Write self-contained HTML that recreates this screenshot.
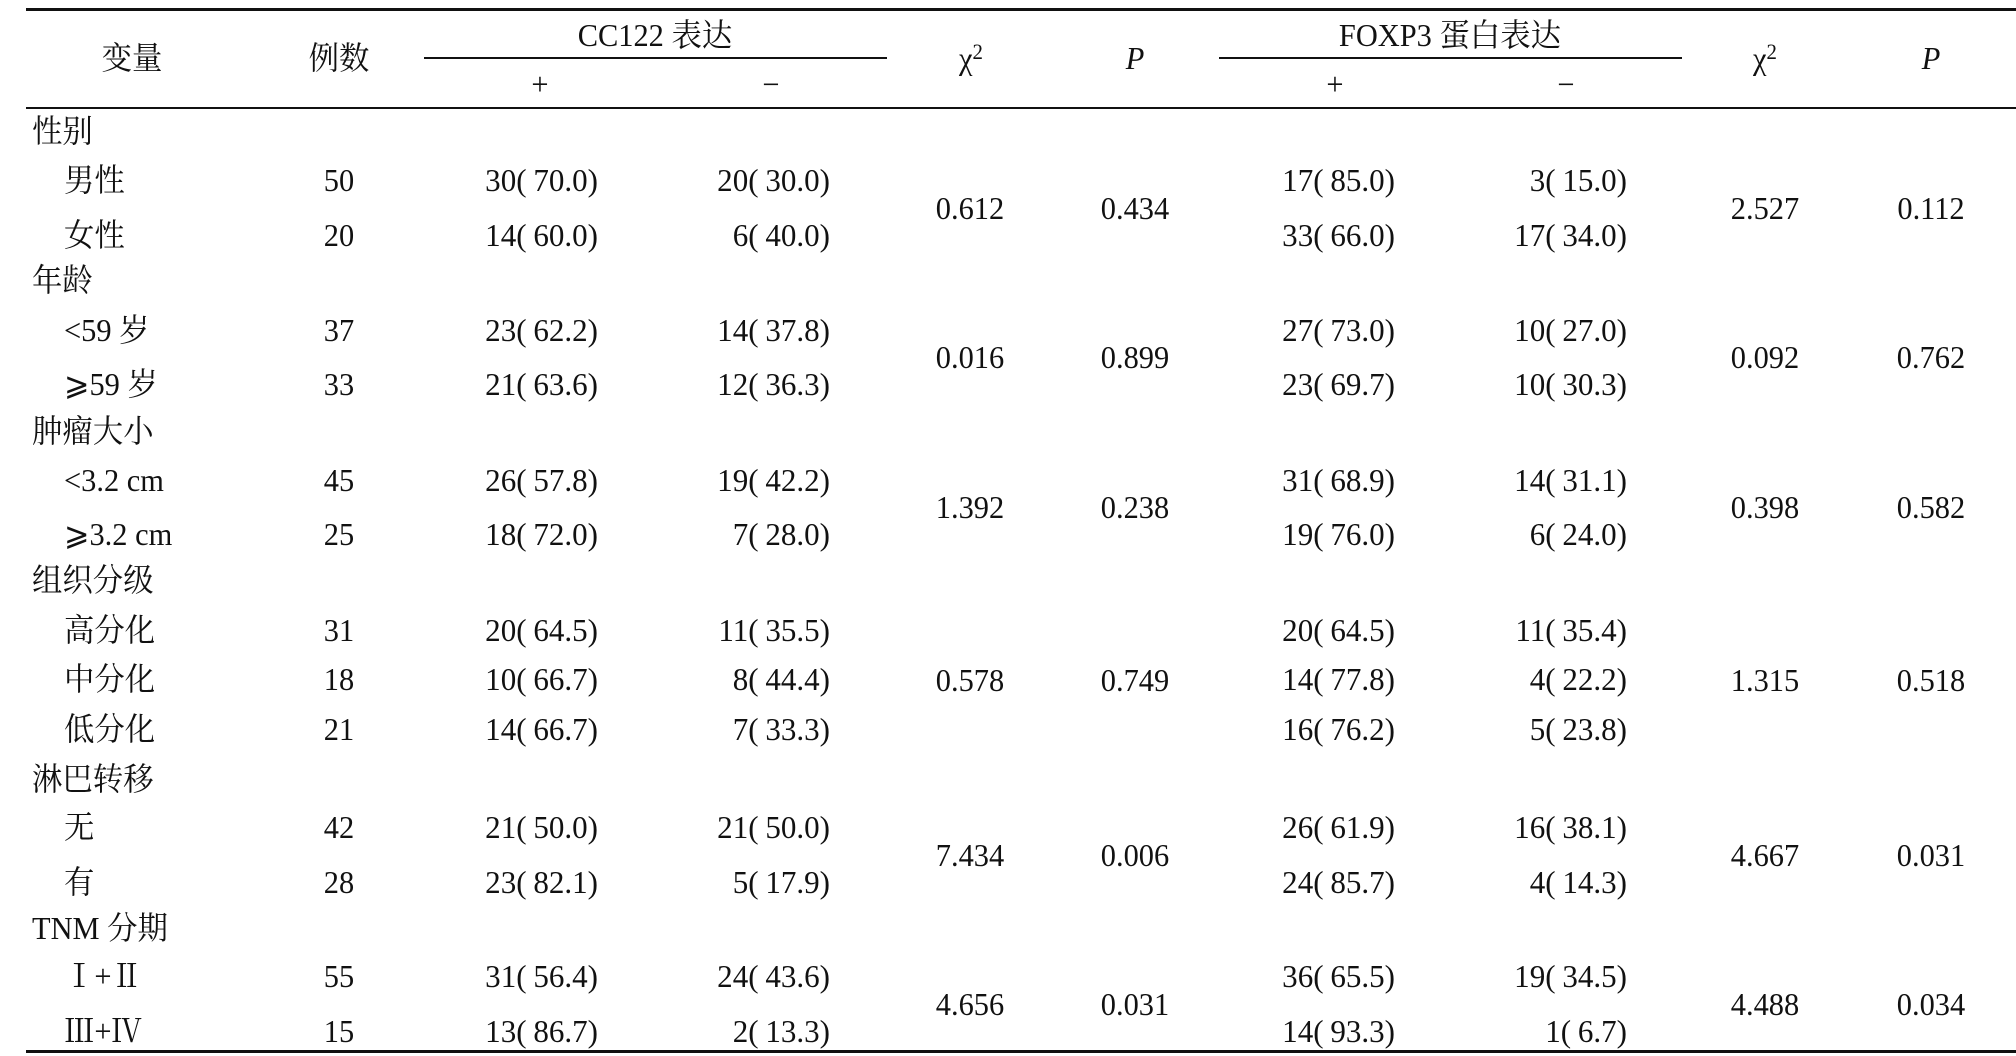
<!DOCTYPE html>
<html><head><meta charset="utf-8">
<style>
html,body{margin:0;padding:0;background:#fff;}
#wrap{position:relative;width:2016px;height:1056px;overflow:hidden;font-family:"Liberation Serif","Noto Serif CJK SC",serif;color:#111;}
.t{position:absolute;white-space:nowrap;font-size:32px;line-height:40px;height:40px;}
.c{transform:translateX(-50%) scaleX(0.95);}
.r{transform:translateX(-100%) scaleX(0.97);transform-origin:100% 50%;}
.l{transform:scaleX(0.95);transform-origin:0 50%;}
.sp{display:inline-block;width:7px;}
.line{position:absolute;background:#111;}
sup{font-size:22px;vertical-align:10px;line-height:0;}
</style></head>
<body>
<div id="wrap">
<div class="line" style="left:26px;top:8px;width:1990px;height:3px"></div>
<div class="line" style="left:26px;top:107px;width:1990px;height:2px"></div>
<div class="line" style="left:26px;top:1050px;width:1990px;height:3px"></div>
<div class="line" style="left:424px;top:57px;width:463px;height:2px"></div>
<div class="line" style="left:1219px;top:57px;width:463px;height:2px"></div>
</div>
<script>
const groups = ["性别","年龄","肿瘤大小","组织分级","淋巴转移","TNM 分期"];
const subLabels = [["男性","女性"],["<59 岁","⩾59 岁"],["<3.2 cm","⩾3.2 cm"],["高分化","中分化","低分化"],["无","有"],["Ⅰ+Ⅱ","Ⅲ+Ⅳ"]];
const counts = [[50,20],[37,33],[45,25],[31,18,21],[42,28],[55,15]];
const ccPos = [["30(70.0)","14(60.0)"],["23(62.2)","21(63.6)"],["26(57.8)","18(72.0)"],["20(64.5)","10(66.7)","14(66.7)"],["21(50.0)","23(82.1)"],["31(56.4)","13(86.7)"]];
const ccNeg = [["20(30.0)","6(40.0)"],["14(37.8)","12(36.3)"],["19(42.2)","7(28.0)"],["11(35.5)","8(44.4)","7(33.3)"],["21(50.0)","5(17.9)"],["24(43.6)","2(13.3)"]];
const ccChi = ["0.612","0.016","1.392","0.578","7.434","4.656"];
const ccP = ["0.434","0.899","0.238","0.749","0.006","0.031"];
const fxPos = [["17(85.0)","33(66.0)"],["27(73.0)","23(69.7)"],["31(68.9)","19(76.0)"],["20(64.5)","14(77.8)","16(76.2)"],["26(61.9)","24(85.7)"],["36(65.5)","14(93.3)"]];
const fxNeg = [["3(15.0)","17(34.0)"],["10(27.0)","10(30.3)"],["14(31.1)","6(24.0)"],["11(35.4)","4(22.2)","5(23.8)"],["16(38.1)","4(14.3)"],["19(34.5)","1(6.7)"]];
const fxChi = ["2.527","0.092","0.398","1.315","4.667","4.488"];
const fxP = ["0.112","0.762","0.582","0.518","0.031","0.034"];

const wrap = document.getElementById('wrap');
function put(txt, x, yc, cls, name, html){
  const d = document.createElement('div');
  d.className = 't ' + cls;
  d.style.left = x + 'px';
  d.style.top = (yc - 20) + 'px';
  if (html) d.innerHTML = txt; else d.textContent = txt;
  
  
  wrap.appendChild(d);
}
function pct(s){ return s.replace('(', '(<span class="sp"></span>'); }
put('变量',132,58,'c','header-variable');
put('例数',339,58,'c','header-cases');
put('CC122 表达',655,35,'c','header-cc122');
put('+',540,84,'c','header-cc122-pos');
put('−',771,84,'c','header-cc122-neg');
put('χ<sup>2</sup>',971,58,'c','header-chi2-cc122',true);
put('<i>P</i>',1135,58,'c','header-p-cc122',true);
put('FOXP3 蛋白表达',1450,35,'c','header-foxp3');
put('+',1335,84,'c','header-foxp3-pos');
put('−',1566,84,'c','header-foxp3-neg');
put('χ<sup>2</sup>',1765,58,'c','header-chi2-foxp3',true);
put('<i>P</i>',1931,58,'c','header-p-foxp3',true);

const groupY = [131,280,431,580,779,928];
const subY = [[180,235],[330,384],[480,534],[630,679,729],[827,882],[976,1031]];
for (let g=0; g<groups.length; g++){
  put(groups[g],32,groupY[g],'l','group-label');
  const ys = subY[g];
  for (let i=0;i<ys.length;i++){
    const y = ys[i];
    put(subLabels[g][i],64,y,'l','subgroup-label');
    put(String(counts[g][i]),339,y,'c','case-count');
    put(pct(ccPos[g][i]),598,y,'r','cc122-positive',true);
    put(pct(ccNeg[g][i]),830,y,'r','cc122-negative',true);
    put(pct(fxPos[g][i]),1395,y,'r','foxp3-positive',true);
    put(pct(fxNeg[g][i]),1627,y,'r','foxp3-negative',true);
  }
  const mid = (ys[0]+ys[ys.length-1])/2;
  put(ccChi[g],970,mid,'c','cc122-chi2');
  put(ccP[g],1135,mid,'c','cc122-p-value');
  put(fxChi[g],1765,mid,'c','foxp3-chi2');
  put(fxP[g],1931,mid,'c','foxp3-p-value');
}
</script>
</body></html>
